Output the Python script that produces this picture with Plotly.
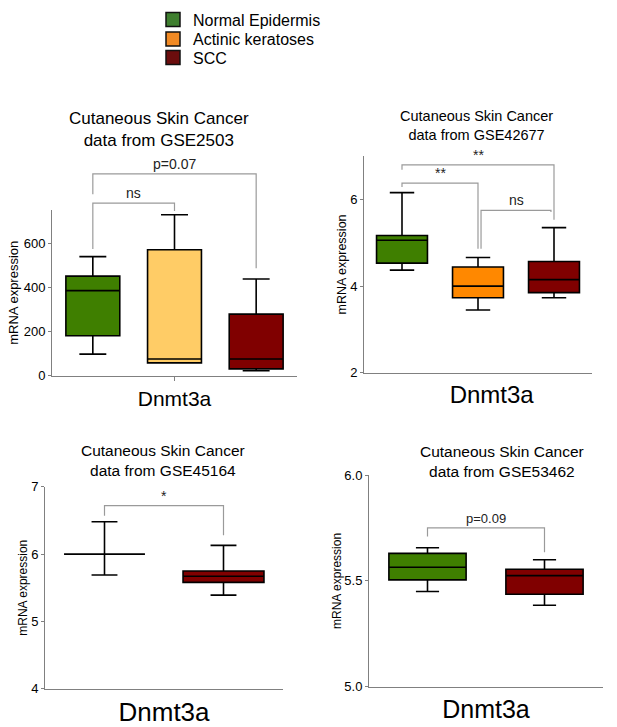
# %% Dnmt3a expression in cutaneous skin cancer - four box plots

import plotly.graph_objects as go


# %% Data

group_names = ["Normal Epidermis", "Actinic keratoses", "SCC"]
legend_colors = ["#3f7f2f", "#f28a24", "#6b0d0d"]

# GSE2503 (top left): normal, actinic keratoses, SCC
gse2503_pos = [0.5, 1.5, 2.5]
gse2503_low = [98, 58, 22]
gse2503_q1 = [182, 58, 31]
gse2503_med = [387, 76, 76]
gse2503_q3 = [453, 573, 280]
gse2503_high = [542, 733, 440]
gse2503_colors = ["#3f7f00", "#ffcc66", "#800000"]

# GSE42677 (top right)
gse42677_pos = [0.5, 1.5, 2.5]
gse42677_low = [4.37, 3.45, 3.73]
gse42677_q1 = [4.53, 3.73, 3.85]
gse42677_med = [5.06, 4.00, 4.15]
gse42677_q3 = [5.17, 4.44, 4.57]
gse42677_high = [6.16, 4.66, 5.35]
gse42677_colors = ["#3f7f00", "#ff8800", "#800000"]

# GSE45164 (bottom left): normal, SCC
gse45164_pos = [0.5, 1.5]
gse45164_low = [5.69, 5.39]
gse45164_q1 = [6.0, 5.58]
gse45164_med = [6.0, 5.67]
gse45164_q3 = [6.0, 5.75]
gse45164_high = [6.48, 6.13]
gse45164_colors = ["#3f7f00", "#800000"]

# GSE53462 (bottom right): normal, SCC
gse53462_pos = [0.5, 1.5]
gse53462_low = [5.45, 5.385]
gse53462_q1 = [5.505, 5.437]
gse53462_med = [5.565, 5.525]
gse53462_q3 = [5.63, 5.555]
gse53462_high = [5.657, 5.60]
gse53462_colors = ["#3f7f00", "#800000"]

# Significance brackets: (x_left, x_right, bar_y, left_leg_y, right_leg_y, label, label_x)
gse2503_brackets = [
    (0.5, 2.5, 919, 826, 489, "p=0.07", 1.5),
    (0.5, 1.5, 786, 577, 750, "ns", 1.0),
]
gse42677_brackets = [
    (0.5, 2.5, 6.80, 6.69, 5.53, "**", 1.5),
    (0.5, 1.5, 6.38, 6.29, 4.86, "**", 1.0),
    (1.54, 2.46, 5.75, 4.86, 5.71, "ns", 2.0),
]
gse45164_brackets = [
    (0.5, 1.5, 6.72, 6.57, 6.28, "*", 1.0),
]
gse53462_brackets = [
    (0.5, 1.5, 5.751, 5.71, 5.636, "p=0.09", 1.0),
]

panel_titles = [
    "Cutaneous Skin Cancer<br>data from GSE2503",
    "Cutaneous Skin Cancer<br>data from GSE42677",
    "Cutaneous Skin Cancer<br>data from GSE45164",
    "Cutaneous Skin Cancer<br>data from GSE53462",
]
gene_label = "Dnmt3a"
y_title = "mRNA expression"


# %% Layout parameters

font_family = "Liberation Sans, Arial, sans-serif"
axis_color = "#808080"
bracket_color = "#9a9a9a"

W, H = 617, 727


def px_x(p):
    return p / W


def px_y(p):
    return 1 - p / H


fig = go.Figure()


def add_boxes(xa, ya, pos, low, q1, med, q3, high, colors, width, whisker):
    for i in range(len(pos)):
        fig.add_trace(go.Box(
            x=[pos[i]],
            lowerfence=[low[i]],
            q1=[q1[i]],
            median=[med[i]],
            q3=[q3[i]],
            upperfence=[high[i]],
            width=width,
            whiskerwidth=whisker,
            fillcolor=colors[i],
            line={"color": "black", "width": 1.6},
            boxpoints=False,
            hoverinfo="skip",
            showlegend=False,
            xaxis=xa,
            yaxis=ya,
        ))


def add_brackets(xa, ya, brackets, label_size):
    for xl, xr, bar, left_leg, right_leg, label, label_x in brackets:
        fig.add_trace(go.Scatter(
            x=[xl, xl, xr, xr],
            y=[left_leg, bar, bar, right_leg],
            mode="lines",
            line={"color": bracket_color, "width": 1.2},
            hoverinfo="skip",
            showlegend=False,
            xaxis=xa,
            yaxis=ya,
        ))
        fig.add_annotation(
            x=label_x, y=bar, xref=xa, yref=ya,
            text=label, showarrow=False,
            yanchor="bottom", yshift=0,
            font={"size": label_size, "color": "#222"},
        )


add_boxes("x", "y", gse2503_pos, gse2503_low, gse2503_q1, gse2503_med,
          gse2503_q3, gse2503_high, gse2503_colors, 0.66, 0.5)
add_boxes("x2", "y2", gse42677_pos, gse42677_low, gse42677_q1, gse42677_med,
          gse42677_q3, gse42677_high, gse42677_colors, 0.67, 0.48)
add_boxes("x3", "y3", gse45164_pos, gse45164_low, gse45164_q1, gse45164_med,
          gse45164_q3, gse45164_high, gse45164_colors, 0.68, 0.32)
add_boxes("x4", "y4", gse53462_pos, gse53462_low, gse53462_q1, gse53462_med,
          gse53462_q3, gse53462_high, gse53462_colors, 0.66, 0.3)

# top-left brackets sit above the axis, so they go on a hidden taller y axis
add_brackets("x", "y5", gse2503_brackets, 14)
add_brackets("x2", "y2", gse42677_brackets, 14)
add_brackets("x3", "y3", gse45164_brackets, 14)
add_brackets("x4", "y4", gse53462_brackets, 13)

# legend entries, one small legend per row so the row spacing can follow the reference
legend_ids = ["legend", "legend2", "legend3"]
legend_rows = [13, 33, 52]
for name, color, lid in zip(group_names, legend_colors, legend_ids):
    fig.add_trace(go.Scatter(
        x=[None], y=[None], mode="markers", name=name, legend=lid,
        marker={"symbol": "square", "size": 14, "color": color,
                "line": {"color": "#111", "width": 1.5}},
        xaxis="x", yaxis="y",
    ))

# panel geometry in pixels (left, right, top, bottom)
tl = (52, 297, 208, 378)
tr = (364, 592, 153, 375)
bl = (45, 283, 492, 699)
br = (369, 603, 480, 697)
tl_range = [0, 755]
tl_ext_top = 150
tl_ext_range = [0, tl_range[1] * (tl[3] - tl_ext_top) / (tl[3] - tl[2])]


def x_axis(box, rng, tick_x, size, anchor, ticks=""):
    return dict(
        domain=[px_x(box[0]), px_x(box[1])],
        range=rng,
        anchor=anchor,
        showline=True, linecolor=axis_color, linewidth=1,
        showgrid=False, zeroline=False,
        tickvals=[tick_x], ticktext=[gene_label],
        ticks=ticks, ticklen=4 if ticks else 0, tickcolor=axis_color,
        tickfont={"size": size, "color": "black"},
        fixedrange=True,
    )


def y_axis(box, rng, tickvals, title_size, tick_size, anchor, fmt=None, standoff=0):
    d = dict(
        domain=[px_y(box[3]), px_y(box[2])],
        range=rng,
        anchor=anchor,
        showline=True, linecolor=axis_color, linewidth=1,
        showgrid=False, zeroline=False,
        tickvals=tickvals, ticks="outside", ticklen=3, tickcolor=axis_color,
        tickfont={"size": tick_size, "color": "black"},
        title={"text": y_title, "font": {"size": title_size, "color": "black"},
               "standoff": standoff},
        fixedrange=True,
    )
    if fmt:
        d["tickformat"] = fmt
    return d


legend_common = {
    "xanchor": "left", "yanchor": "middle",
    "font": {"size": 16, "color": "black"},
    "bgcolor": "rgba(0,0,0,0)", "itemclick": False,
}

fig.update_layout(
    width=W,
    height=H,
    margin={"l": 0, "r": 0, "t": 0, "b": 0},
    paper_bgcolor="white",
    plot_bgcolor="rgba(0,0,0,0)",
    font={"family": font_family, "color": "black"},
    xaxis=x_axis(tl, [0, 3], 1.5, 21, "y", ticks="outside"),
    yaxis=y_axis(tl, tl_range, [0, 200, 400, 600], 13, 13, "x", standoff=2),
    xaxis2=x_axis(tr, [0, 3], 1.68, 24, "y2"),
    yaxis2=y_axis(tr, [2, 7], [2, 4, 6], 12.5, 13, "x2"),
    xaxis3=x_axis(bl, [0, 2], 1.0, 26, "y3"),
    yaxis3=y_axis(bl, [4, 7], [4, 5, 6, 7], 12, 13, "x3"),
    xaxis4=x_axis(br, [0, 2], 1.0, 25, "y4"),
    yaxis4=y_axis(br, [5, 6], [5.0, 5.5, 6.0], 12, 13, "x4", fmt=".1f"),
    yaxis5=dict(domain=[px_y(tl[3]), px_y(tl_ext_top)], range=tl_ext_range,
                anchor="x", visible=False, fixedrange=True),
    showlegend=True,
)
for lid, row in zip(legend_ids, legend_rows):
    fig.update_layout({lid: dict(legend_common, x=px_x(153), y=px_y(row))})

# panel titles
title_spots = [(159, 126, 17), (476, 121, 14.5), (163, 465, 15.5), (502, 466, 15.5)]
for text, (cx, cy, size) in zip(panel_titles, title_spots):
    fig.add_annotation(
        x=px_x(cx), y=px_y(cy), xref="paper", yref="paper",
        text=text, showarrow=False, align="center",
        xanchor="center", yanchor="middle",
        font={"size": size, "color": "black"},
    )

fig.write_html("out.html", config={"displayModeBar": False},
               post_script="document.body.style.margin='0';")
